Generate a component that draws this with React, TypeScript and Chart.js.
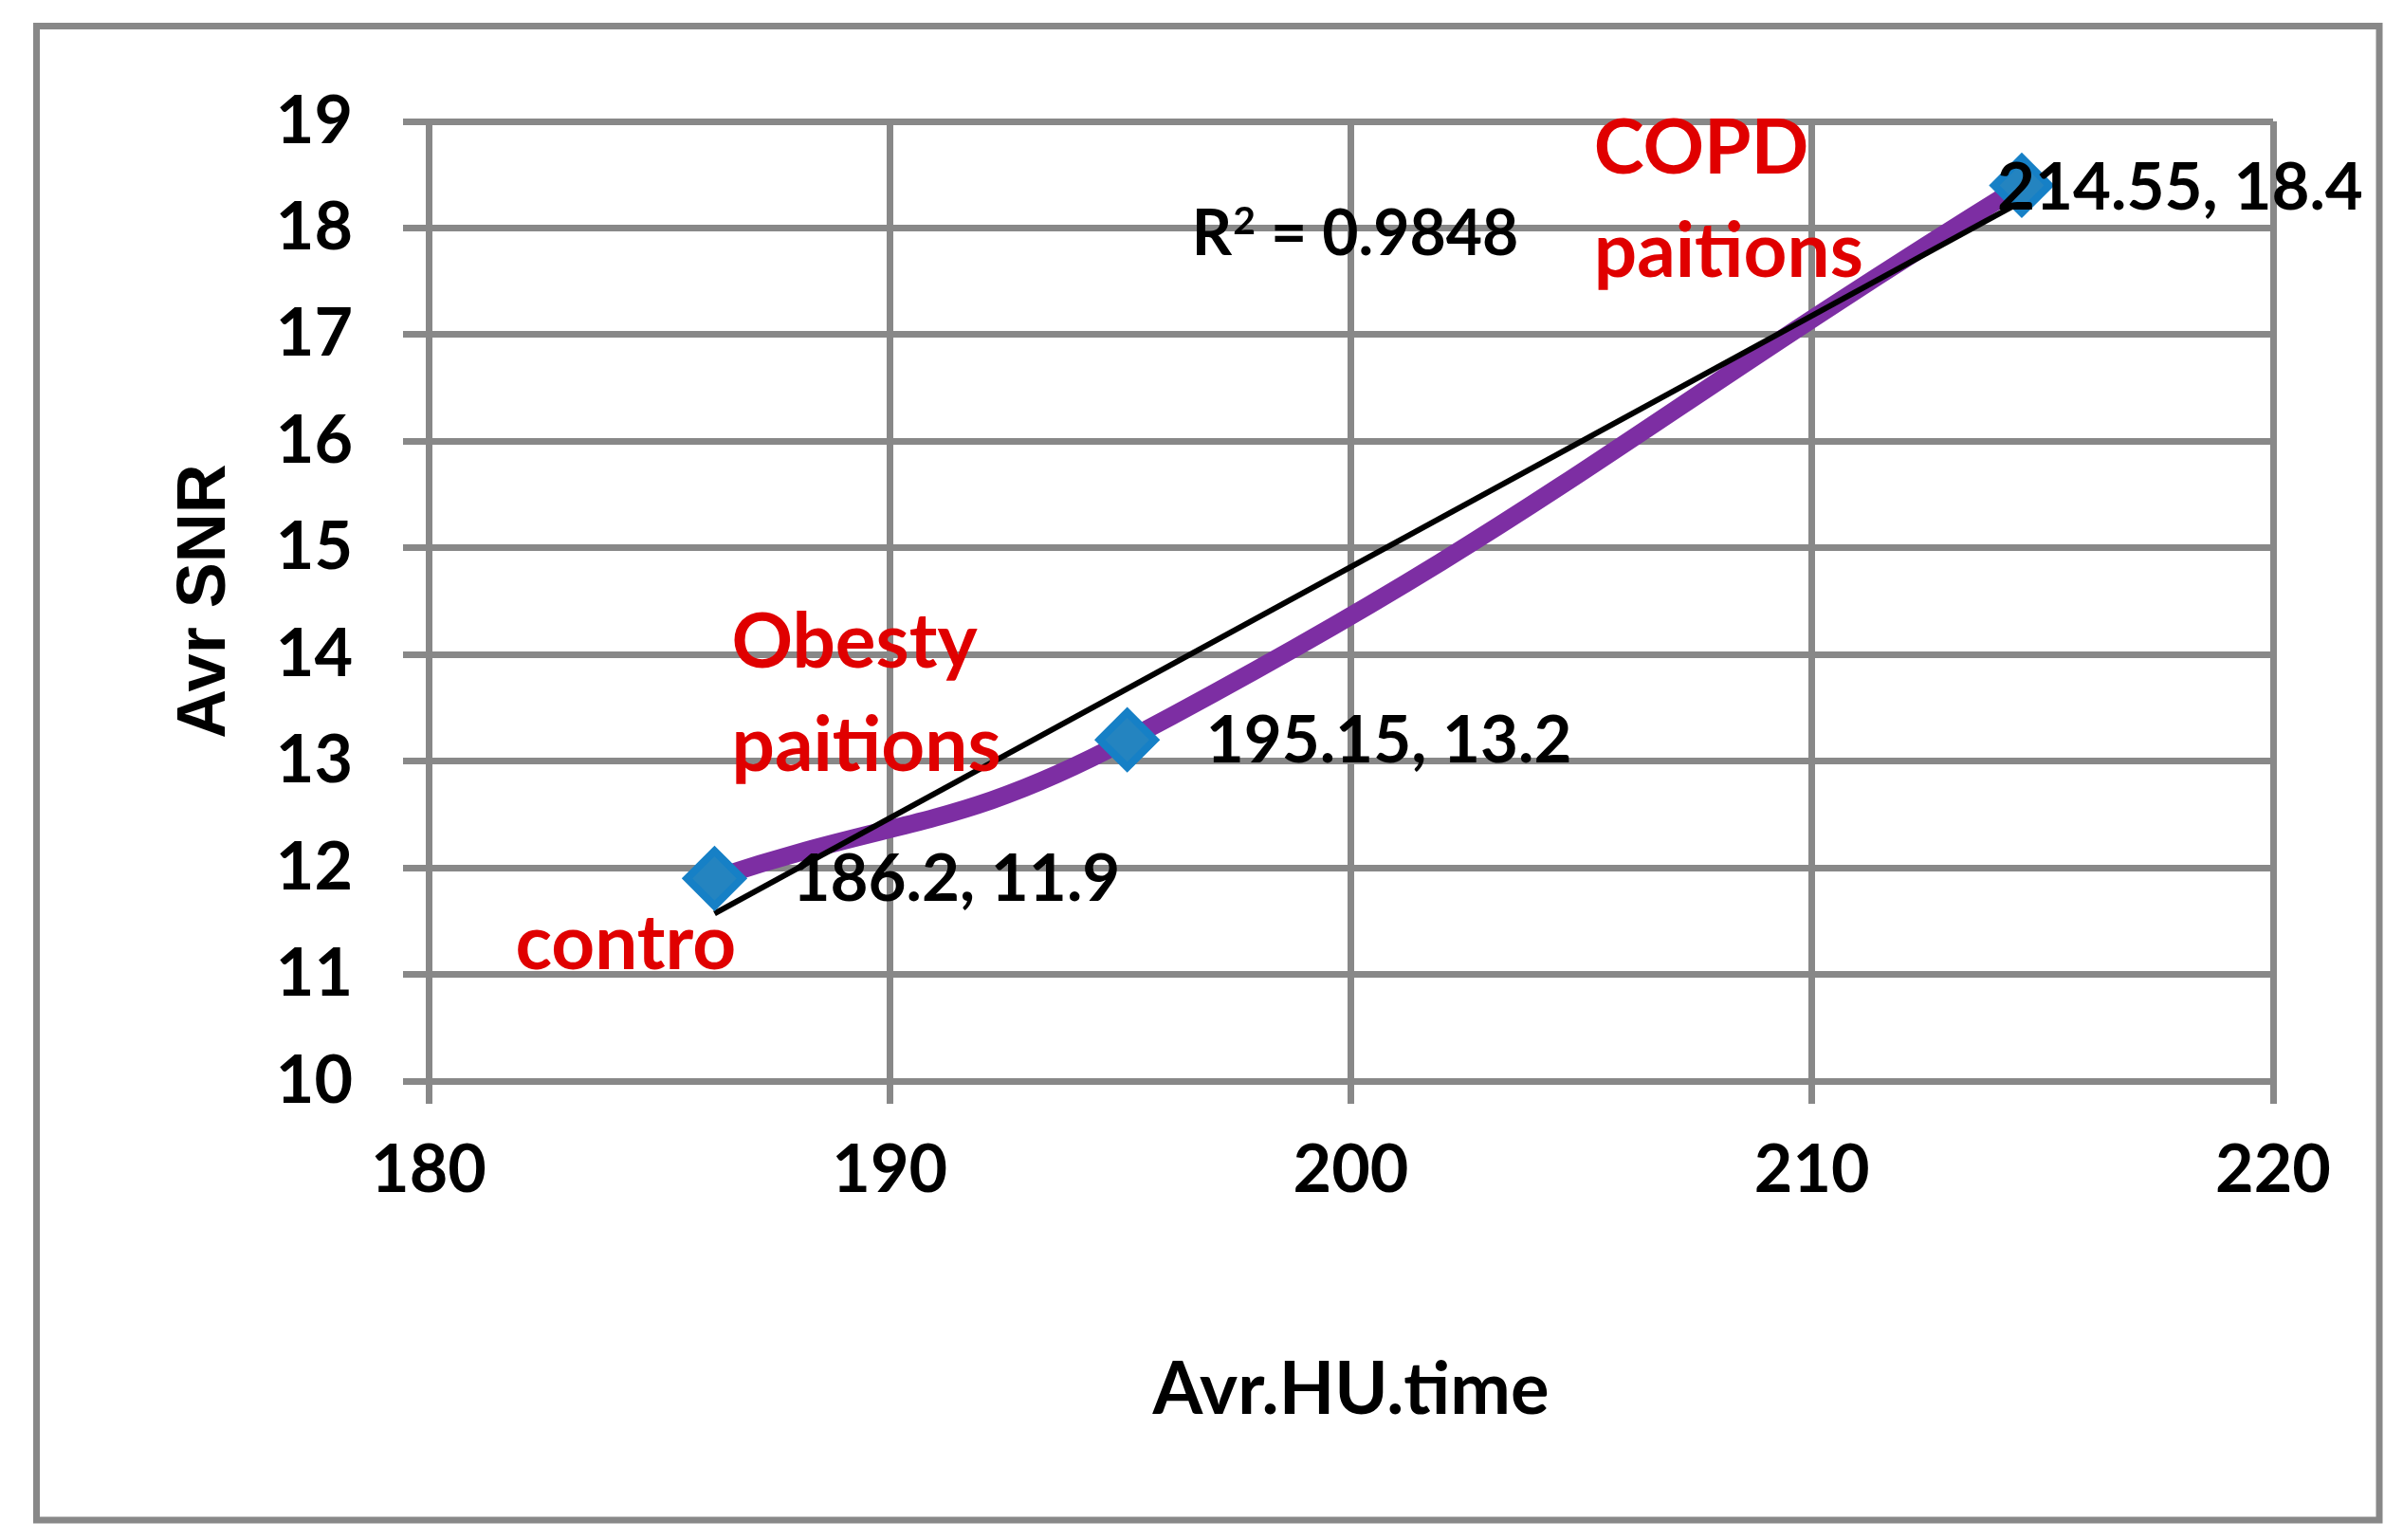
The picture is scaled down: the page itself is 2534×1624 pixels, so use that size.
import React, { useEffect, useRef } from 'react';
import { Chart, registerables } from 'chart.js';

Chart.register(...registerables);

// ---- data ----
const avrHU = [186.2, 195.15, 214.55];
const avrSNR = [11.9, 13.2, 18.4];
const trendHU = [186.2, 214.55];
const trendSNR = [11.57, 18.25];
const rSquared = '0.9848';
const groupNotes = [['COPD', 'paitions'], ['Obesty', 'paitions'], ['contro']];
const xAxisTitle = 'Avr.HU.time';
const yAxisTitle = 'Avr SNR';

// ---- layout / styles ----
const W = 2534;
const H = 1624;
const GRID = '#888888';
const PURPLE = '#7D2EA3';
const RED = '#E00000';
const TICK_FONT = { family: 'Lato', size: 70, weight: 'bold' as const };
const LABEL_FONT = 'bold 69px Lato';
const NOTE_FONT = 'bold 80px Lato';
const R2_SIZE = 66;
const NOTE_LINE = 109;
// anchors in data units (left x, first baseline y)
const noteAnchors = [
  [205.27, 18.515],
  [186.57, 13.877],
  [181.88, 11.046],
];
const r2Anchor = [196.55, 17.749];
// data label pixel offsets from their point (left, baseline)
const labelOffsets = [
  [82, 24],
  [83, 24],
  [-26, 26],
];

const overlayPlugin = {
  id: 'overlay',
  beforeDraw(chart: any) {
    const ctx = chart.ctx;
    ctx.save();
    ctx.fillStyle = '#ffffff';
    ctx.fillRect(0, 0, W, H);
    ctx.strokeStyle = GRID;
    ctx.lineWidth = 7;
    ctx.strokeRect(38.5, 27.5, 2470.5, 1575.5);
    ctx.restore();
  },
  afterDatasetsDraw(chart: any) {
    const ctx = chart.ctx;
    const xs = chart.scales.x;
    const ys = chart.scales.y;
    ctx.save();
    ctx.textBaseline = 'alphabetic';
    ctx.textAlign = 'left';

    // data labels
    ctx.font = LABEL_FONT;
    ctx.fillStyle = '#000000';
    avrHU.forEach((hx, i) => {
      const px = xs.getPixelForValue(hx);
      const py = ys.getPixelForValue(avrSNR[i]);
      ctx.fillText(`${hx}, ${avrSNR[i]}`, px + labelOffsets[i][0], py + labelOffsets[i][1]);
    });

    // R squared
    {
      const px = xs.getPixelForValue(r2Anchor[0]);
      const py = ys.getPixelForValue(r2Anchor[1]);
      ctx.font = `bold ${R2_SIZE}px Lato`;
      ctx.fillText('R', px, py);
      let w = ctx.measureText('R').width;
      ctx.font = `bold ${Math.round(R2_SIZE * 0.62)}px Lato`;
      ctx.fillText('2', px + w + 1, py - R2_SIZE * 0.33);
      w += ctx.measureText('2').width + 1;
      ctx.font = `bold ${R2_SIZE}px Lato`;
      ctx.fillText(` = ${rSquared}`, px + w, py);
    }

    // red group notes
    ctx.font = NOTE_FONT;
    ctx.fillStyle = RED;
    groupNotes.forEach((lines, i) => {
      const px = xs.getPixelForValue(noteAnchors[i][0]);
      const py = ys.getPixelForValue(noteAnchors[i][1]);
      lines.forEach((t, j) => ctx.fillText(t, px, py + j * NOTE_LINE));
    });
    ctx.restore();
  },
};

export default function App() {
  const ref = useRef<HTMLCanvasElement | null>(null);

  useEffect(() => {
    if (!ref.current) return;
    const points = avrHU.map((x, i) => ({ x, y: avrSNR[i] }));
    const trend = trendHU.map((x, i) => ({ x, y: trendSNR[i] }));
    const chart = new Chart(ref.current, {
      type: 'scatter',
      data: {
        datasets: [
          {
            data: points,
            showLine: true,
            borderColor: PURPLE,
            borderWidth: 19,
            borderCapStyle: 'round',
            borderJoinStyle: 'round',
            tension: 0.45,
            pointRadius: 0,
            order: 3,
          } as any,
          {
            data: trend,
            showLine: true,
            borderColor: '#000000',
            borderWidth: 6,
            tension: 0,
            pointRadius: 0,
            order: 2,
          } as any,
          {
            data: points,
            showLine: false,
            pointStyle: 'rectRot',
            pointRadius: 29,
            backgroundColor: '#2484C0',
            borderColor: '#1680C6',
            borderWidth: 8,
            order: 1,
          } as any,
        ],
      },
      options: {
        responsive: false,
        animation: false,
        events: [],
        layout: { padding: { top: 128, right: 137, left: 0, bottom: 0 } },
        plugins: {
          legend: { display: false },
          tooltip: { enabled: false },
        },
        scales: {
          x: {
            type: 'linear',
            min: 180,
            max: 220,
            ticks: { stepSize: 10, font: TICK_FONT, color: '#000000', padding: 28 },
            grid: { color: GRID, lineWidth: 7, tickLength: 24, tickColor: GRID, tickWidth: 7 },
            border: { color: GRID, width: 7 },
            title: {
              display: true,
              text: xAxisTitle,
              color: '#000000',
              font: { family: 'Lato', size: 76, weight: 'bold' },
              padding: { top: 0, bottom: 112 },
            },
            afterFit: (s: any) => {
              s.height = 484;
              s.paddingLeft = 0;
              s.paddingRight = 0;
            },
          },
          y: {
            type: 'linear',
            min: 10,
            max: 19,
            ticks: { stepSize: 1, font: TICK_FONT, color: '#000000', padding: 53 },
            grid: { color: GRID, lineWidth: 7, tickLength: 27, tickColor: GRID, tickWidth: 7 },
            border: { color: GRID, width: 7 },
            title: {
              display: true,
              text: yAxisTitle,
              color: '#000000',
              font: { family: '"Liberation Sans", Arial, sans-serif', size: 72, weight: 'bold' },
              padding: { top: 174, bottom: 0 },
            },
            afterFit: (s: any) => {
              s.width = 452;
              s.paddingTop = 0;
              s.paddingBottom = 0;
            },
          },
        },
      } as any,
      plugins: [overlayPlugin],
    });
    let alive = true;
    if ((document as any).fonts && (document as any).fonts.ready) {
      (document as any).fonts.ready.then(() => {
        if (alive) chart.update('none');
      });
    }
    return () => {
      alive = false;
      chart.destroy();
    };
  }, []);

  return (
    <div style={{ position: 'absolute', left: 0, top: 0, width: W, height: H, background: '#fff' }}>
      <canvas ref={ref} width={W} height={H} style={{ display: 'block', width: W, height: H }} />
    </div>
  );
}
